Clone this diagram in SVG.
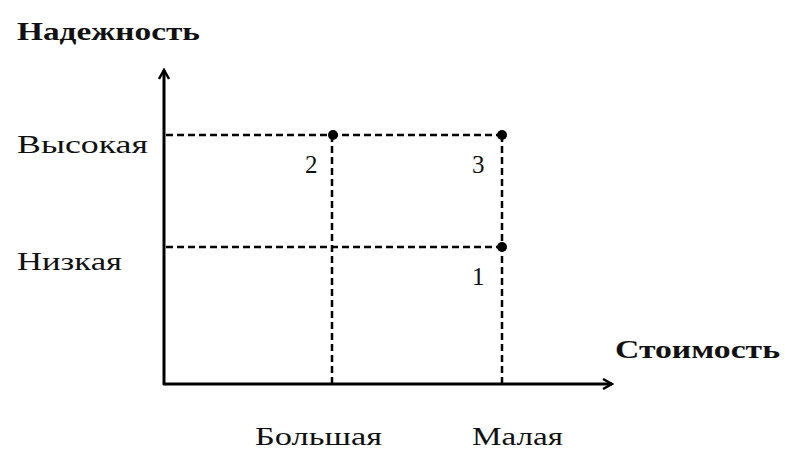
<svg xmlns="http://www.w3.org/2000/svg" width="785" height="452" viewBox="0 0 785 452">
<style>
text{font-family:"Liberation Serif","Times New Roman",serif;fill:#111;font-size:25px}
.b{font-weight:bold}
.ax{stroke:#000;stroke-width:3;fill:none}
.d{stroke:#000;stroke-width:2.5;stroke-dasharray:7,4;fill:none}
.pt{fill:#000}
</style>
<defs>
<marker id="ar" viewBox="0 0 12 12" refX="10" refY="6" markerWidth="12" markerHeight="12" markerUnits="userSpaceOnUse" orient="auto">
<path d="M1,1 L10,6 L1,11" fill="none" stroke="#000" stroke-width="2.5"/>
</marker>
</defs>
<rect width="785" height="452" fill="#fff"/>
<g id="connectors">
<line class="d" x1="166" y1="135" x2="502" y2="135"/>
<line class="d" x1="166" y1="247" x2="502" y2="247"/>
<line class="d" x1="332" y1="135" x2="332" y2="383"/>
<line class="d" x1="502" y1="135" x2="502" y2="383"/>
<line class="ax" x1="164" y1="385" x2="164" y2="70" marker-end="url(#ar)"/>
<line class="ax" x1="163" y1="384" x2="612" y2="384" marker-end="url(#ar)"/>
</g>
<g id="y-axis-label"><text class="b" x="17" y="40" textLength="183" lengthAdjust="spacingAndGlyphs">Надежность</text></g>
<g id="x-axis-label"><text class="b" x="615" y="358" textLength="165" lengthAdjust="spacingAndGlyphs">Стоимость</text></g>
<g id="level-high"><text x="17" y="153" textLength="131" lengthAdjust="spacingAndGlyphs">Высокая</text></g>
<g id="level-low"><text x="17" y="270" textLength="105" lengthAdjust="spacingAndGlyphs">Низкая</text></g>
<g id="cost-big"><text x="255" y="445" textLength="127" lengthAdjust="spacingAndGlyphs">Большая</text></g>
<g id="cost-small"><text x="472" y="445" textLength="91" lengthAdjust="spacingAndGlyphs">Малая</text></g>
<g id="point-2"><circle class="pt" cx="333" cy="135" r="5"/><text x="305" y="173">2</text></g>
<g id="point-3"><circle class="pt" cx="502" cy="135" r="5"/><text x="472" y="173">3</text></g>
<g id="point-1"><circle class="pt" cx="502" cy="247" r="5"/><text x="472" y="285">1</text></g>
</svg>
